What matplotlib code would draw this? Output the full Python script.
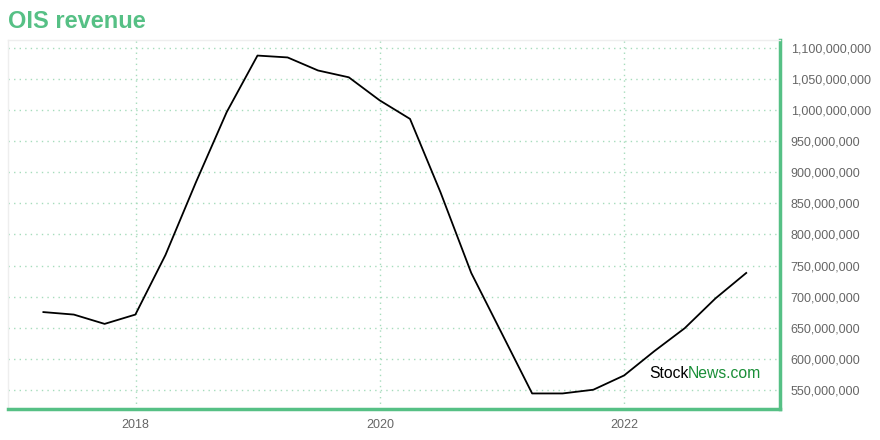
import matplotlib
matplotlib.use("Agg")
import matplotlib.pyplot as plt
import matplotlib.dates as mdates
import matplotlib.ticker as mticker
import pandas as pd

# quarterly revenue
quarters = ["2017-03-31", "2017-06-30", "2017-09-30", "2017-12-31",
            "2018-03-31", "2018-06-30", "2018-09-30", "2018-12-31",
            "2019-03-31", "2019-06-30", "2019-09-30", "2019-12-31",
            "2020-03-31", "2020-06-30", "2020-09-30", "2020-12-31",
            "2021-03-31", "2021-06-30", "2021-09-30", "2021-12-31",
            "2022-03-31", "2022-06-30", "2022-09-30", "2022-12-31"]
revenue = [675e6, 671e6, 656e6, 671e6,
           767e6, 884e6, 997e6, 1088e6,
           1085e6, 1064e6, 1053e6, 1016e6,
           986e6, 868e6, 738e6, 640e6,
           544e6, 544e6, 550e6, 573e6,
           612e6, 649e6, 697e6, 738e6]
year_ticks = ["2018-01-01", "2020-01-01", "2022-01-01"]

green = "#56c085"
grid_green = "#a6dcbc"

dates = pd.to_datetime(quarters)

fig = plt.figure(figsize=(8.8, 4.4), dpi=100)
ax = fig.add_axes([0.009, 0.0705, 0.877, 0.8385])

ax.plot(dates, revenue, color="black", linewidth=1.3)

ax.set_xlim(pd.Timestamp("2016-12-15"), pd.Timestamp("2023-04-10"))
ax.set_ylim(519e6, 1113e6)

ax.set_xticks(pd.to_datetime(year_ticks))
ax.xaxis.set_major_formatter(mdates.DateFormatter("%Y"))
ax.yaxis.set_major_locator(mticker.MultipleLocator(50e6))
ax.yaxis.set_major_formatter(mticker.FuncFormatter(lambda v, p: f"{int(round(v)):,}"))
ax.yaxis.tick_right()

ax.tick_params(axis="both", length=0, labelsize=9, colors="#666666",
               labelfontfamily="Liberation Sans")
ax.tick_params(axis="y", pad=8)
ax.tick_params(axis="x", pad=7)

ax.grid(True, color=grid_green, linestyle=(0, (1, 3)), linewidth=1)

for side in ["top", "left"]:
    ax.spines[side].set_color("#eeeeee")
    ax.spines[side].set_linewidth(1)
for side in ["bottom", "right"]:
    ax.spines[side].set_color(green)
    ax.spines[side].set_linewidth(2.5)

fig.text(0.009, 0.95, "OIS revenue", color=green, fontsize=17, fontweight="bold",
         family="Liberation Sans", va="center", ha="left")

# watermark, two colours side by side
t1 = ax.text(0.8316, 0.095, "Stock", transform=ax.transAxes, fontsize=11.3,
             color="black", family="Liberation Sans", va="center", ha="left")
fig.canvas.draw()
bb = t1.get_window_extent()
x_next = ax.transAxes.inverted().transform((bb.x1 - 1, bb.y0))[0]
ax.text(x_next, 0.095, "News.com", transform=ax.transAxes, fontsize=11.3,
        color="#1a8f38", family="Liberation Sans", va="center", ha="left")

fig.savefig("out.png", dpi=100)
